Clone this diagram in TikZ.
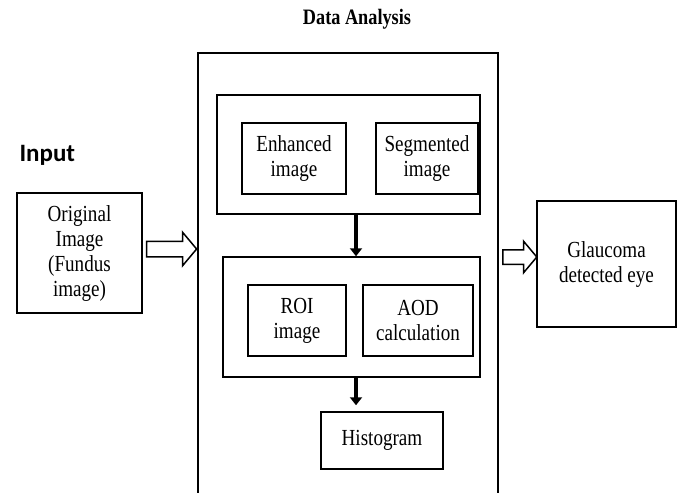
\documentclass[tikz,border=0pt]{standalone}
\usepackage{fontspec}
\setmainfont{Liberation Serif}[FakeStretch=0.83]
\newfontfamily\inputfont{Carlito}
\usetikzlibrary{arrows.meta,shapes.arrows}

\begin{document}
\begin{tikzpicture}[x=1pt,y=-1pt,
  box/.style={draw,line width=1.5pt,inner sep=0pt,align=center,font=\fontsize{23}{25}\selectfont},
  hollow arrow/.style={single arrow,draw,line width=1.5pt,inner xsep=0pt,inner ysep=7pt,
    single arrow head extend=9pt,single arrow head indent=0pt,single arrow tip angle=100},
  flow/.style={line width=4pt,-{Triangle[width=12pt,length=8pt]}}]

  \useasboundingbox (0,0) rectangle (678,493);
  \clip (0,0) rectangle (678,493);

  \node[font=\bfseries\fontsize{22}{25}\selectfont] (title) at (357,19) {Data Analysis};
  \node[font=\inputfont\bfseries\fontsize{25}{30}\selectfont,anchor=west] (input) at (16,155) {Input};

  \node[box,minimum width=125pt,minimum height=120pt] (orig) at (79.5,253) {Original\\Image\\(Fundus\\image)};
  \node[box,minimum width=300pt,minimum height=460pt] (analysis) at (348,283) {}; % open at the bottom
  \node[box,minimum width=139pt,minimum height=126pt] (glaucoma) at (606.5,264) {Glaucoma\\detected eye};

  \node[box,minimum width=263pt,minimum height=119pt] (inner1) at (348.5,154.5) {};
  \node[box,minimum width=104pt,minimum height=71pt] (enhanced) at (294,158.5) {Enhanced\\image};
  \node[box,minimum width=102pt,minimum height=71pt] (segmented) at (427,158.5) {Segmented\\image};

  \node[box,minimum width=257pt,minimum height=120pt] (inner2) at (351.5,317) {};
  \node[box,minimum width=98pt,minimum height=71pt] (roi) at (297,320.5) {ROI\\image};
  \node[box,minimum width=110pt,minimum height=71pt] (aod) at (418,320.5) {AOD\\calculation};

  \node[box,minimum width=122pt,minimum height=57pt] (histo) at (382,440.5) {Histogram};

  \coordinate (inrow) at (0,249);
  \coordinate (outrow) at (0,257);
  \coordinate (col) at (356,0);
  \coordinate (histtop) at ([yshift=6pt]histo.north);

  \path (orig.east |- inrow) -- (analysis.west |- inrow) node[pos=0.47,hollow arrow,minimum height=50pt] {};
  \path (analysis.east |- outrow) -- (glaucoma.west |- outrow)
    node[pos=0.48,hollow arrow,minimum height=34pt,inner ysep=6.5pt,single arrow head extend=8.5pt] {};

  \draw[flow] (inner1.south -| col) -- (inner2.north -| col);
  \draw[flow] (inner2.south -| col) -- (histtop -| col);
\end{tikzpicture}
\end{document}
